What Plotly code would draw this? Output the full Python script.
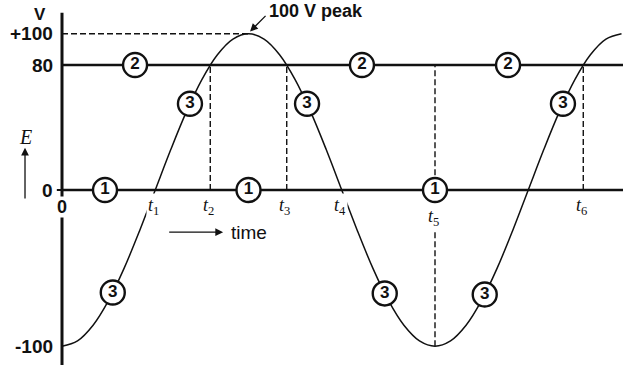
import plotly.graph_objects as go

# time axis in electrical degrees, E in volts
time_deg = [0, 15, 30, 45, 60, 75, 90, 105, 120, 135, 150, 165, 180,
            195, 210, 225, 240, 255, 270, 285, 300, 315, 330, 345, 360,
            375, 390, 405, 420, 435, 450, 465, 480, 495, 510, 525, 540]
e_volts = [-100, -96.6, -86.6, -70.7, -50, -25.9, 0, 25.9, 50, 70.7, 86.6, 96.6, 100,
           96.6, 86.6, 70.7, 50, 25.9, 0, -25.9, -50, -70.7, -86.6, -96.6, -100,
           -96.6, -86.6, -70.7, -50, -25.9, 0, 25.9, 50, 70.7, 86.6, 96.6, 100]

level_zero = 0
level_80 = 80
peak = 100

# marked instants t1..t6
t_names = ["1", "2", "3", "4", "5", "6"]
t_deg = [90, 143.1, 216.9, 270, 360, 503.1]

# circled curve labels
c1_x = [41.5, 180, 360]
c2_x = [70.5, 289.5, 430.5]
c3_x = [49, 123.5, 236.5, 311.5, 408, 483.5]
c3_y = [-65.6, 55.2, 55.2, -66.2, -66.9, 55.2]

ytick_vals = [100, 80, 0, -100]
ytick_text = ["+100", "80", "0", "-100"]

BLACK = "#111111"
SANS = "Liberation Sans"
SERIF = "Liberation Serif"

fig = go.Figure()

fig.add_trace(go.Scatter(x=time_deg, y=e_volts, mode="lines",
                         line=dict(color=BLACK, width=1.5, shape="spline", smoothing=1),
                         hoverinfo="skip", showlegend=False))

circ_x = c1_x + c2_x + c3_x
circ_y = [level_zero] * len(c1_x) + [level_80] * len(c2_x) + c3_y
circ_t = ["1"] * len(c1_x) + ["2"] * len(c2_x) + ["3"] * len(c3_x)
fig.add_trace(go.Scatter(x=circ_x, y=circ_y, mode="markers+text", text=circ_t,
                         textposition="middle center",
                         textfont=dict(family=SANS, size=17, color=BLACK, weight="bold"),
                         marker=dict(size=24, color="white", line=dict(color=BLACK, width=2.4)),
                         hoverinfo="skip", showlegend=False))

shapes = []
# vertical E axis
shapes.append(dict(type="line", x0=0, x1=0, y0=113.5, y1=-112, layer="below",
                   line=dict(color=BLACK, width=3)))
shapes.append(dict(type="line", x0=-5, x1=0, y0=0, y1=0, layer="below",
                   line=dict(color=BLACK, width=2)))
# 0 and 80 V lines
for lv in [level_zero, level_80]:
    shapes.append(dict(type="line", x0=0, x1=545, y0=lv, y1=lv, layer="below",
                       line=dict(color=BLACK, width=2.6)))
# dashed guides
dash = dict(color=BLACK, width=1.4, dash="6px,3px")
shapes.append(dict(type="line", x0=0, x1=180, y0=peak, y1=peak, layer="below", line=dash))
for name, t in zip(t_names, t_deg):
    if name in ("2", "3", "6"):
        shapes.append(dict(type="line", x0=t, x1=t, y0=0, y1=level_80, layer="below", line=dash))
    elif name == "5":
        shapes.append(dict(type="line", x0=t, x1=t, y0=-100, y1=level_80, layer="below", line=dash))

ann = []
for v, s in zip(ytick_vals, ytick_text):
    ann.append(dict(x=0, y=v, text=s, showarrow=False, xanchor="right", xshift=-7,
                    font=dict(family=SANS, size=19, color=BLACK, weight="bold")))
ann.append(dict(x=-21.7, y=112.5, text="V", showarrow=False,
                font=dict(family=SANS, size=17, color=BLACK, weight="bold")))
ann.append(dict(x=0, y=-10.9, text="0", showarrow=False, bgcolor="white", borderpad=0,
                font=dict(family=SANS, size=18, color=BLACK, weight="bold")))
for name, t in zip(t_names, t_deg):
    yy = -17.5 if name == "5" else -10.5
    ann.append(dict(x=t, y=yy, xshift=-2, text="<i>t</i><sub>" + name + "</sub>",
                    showarrow=False, bgcolor="white", borderpad=1,
                    font=dict(family=SERIF, size=18, color=BLACK)))
# E with upward arrow
ann.append(dict(x=-35.7, y=34, text="<i>E</i>", showarrow=False,
                font=dict(family=SERIF, size=20, color=BLACK)))
ann.append(dict(x=-35.7, y=27, ax=-35.7, ay=-6.4, axref="x", ayref="y", text="",
                showarrow=True, arrowhead=2, arrowsize=1.2, arrowwidth=1.3, arrowcolor=BLACK))
# time arrow
ann.append(dict(x=155.5, y=-27, ax=102, ay=-27, axref="x", ayref="y", text="",
                showarrow=True, arrowhead=2, arrowsize=1.2, arrowwidth=1.3, arrowcolor=BLACK))
ann.append(dict(x=161.2, y=-27, text="time", showarrow=False, xanchor="left",
                font=dict(family=SANS, size=19, color=BLACK)))
# peak note
ann.append(dict(x=181.5, y=101.5, ax=17, ay=-17, text="", showarrow=True, arrowhead=2,
                arrowsize=1.2, arrowwidth=1.3, arrowcolor=BLACK))
ann.append(dict(x=198, y=114.5, text="100 V peak", showarrow=False, xanchor="left",
                font=dict(family=SANS, size=18, color=BLACK, weight="bold")))

fig.update_layout(width=623, height=369, margin=dict(l=0, r=0, t=0, b=0),
                  paper_bgcolor="white", plot_bgcolor="white",
                  shapes=shapes, annotations=ann, showlegend=False)
fig.update_xaxes(visible=False, range=[-59.84, 541.45], fixedrange=True)
fig.update_yaxes(visible=False, range=[-114.56, 121.6], fixedrange=True)

# drop the default 8 px body margin so the figure fills the window
fig.write_html("out.html", config={"displayModeBar": False},
               post_script="document.body.style.margin='0px';")
